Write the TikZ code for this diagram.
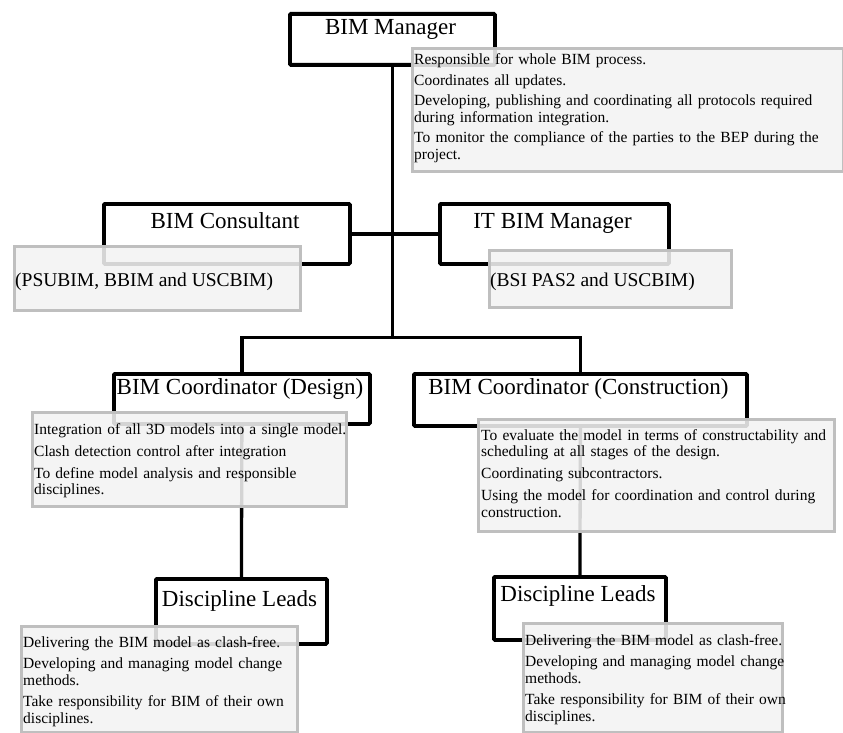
\documentclass[tikz,border=0pt]{standalone}
\usepackage{fontspec}
\setmainfont{Liberation Serif}
\usetikzlibrary{calc}
\begin{document}
\begin{tikzpicture}[x=1pt,y=-1pt,
  rolebox/.style={draw=black, line width=3.8pt, rounded corners=1pt, inner sep=0pt, anchor=north west},
  roletext/.style={font=\fontsize{23}{26}\selectfont, anchor=base, inner sep=0pt},
  link/.style={line width=3.3pt},
  descbox/.style={draw=black!25, line width=3pt, fill=black!5, fill opacity=0.88, inner sep=0pt, anchor=north west},
  desctext/.style={font=\fontsize{15.5}{16.5}\selectfont, align=left, text width=420pt, inner sep=0pt, anchor=base west},
  bigtext/.style={font=\fontsize{19.5}{22}\selectfont, anchor=base west, inner sep=0pt}
]
\useasboundingbox (0,0) rectangle (843,733);

% role boxes
\node[rolebox, minimum width=205pt, minimum height=51pt] (mgr) at (288,12) {};
\node[roletext] (mgrt) at (390.5,35) {BIM Manager};
\node[rolebox, minimum width=246pt, minimum height=60pt] (cons) at (102,202) {};
\node[roletext] (const) at (225,228) {BIM Consultant};
\node[rolebox, minimum width=229pt, minimum height=60pt] (itm) at (438,202) {};
\node[roletext] (itmt) at (552.5,228) {IT BIM Manager};
\node[rolebox, minimum width=256pt, minimum height=50pt] (des) at (112,372) {};
\node[roletext] (dest) at (240,394) {BIM Coordinator (Design)};
\node[rolebox, minimum width=333pt, minimum height=52pt] (con) at (412,372) {};
\node[roletext] (cont) at (578.5,394) {BIM Coordinator (Construction)};
\node[rolebox, minimum width=171pt, minimum height=65pt] (dl1) at (154,577) {};
\node[roletext] (dl1t) at (239.5,606) {Discipline Leads};
\node[rolebox, minimum width=172pt, minimum height=63pt] (dl2) at (492,575) {};
\node[roletext] (dl2t) at (578,601) {Discipline Leads};

% connectors
\coordinate (j1) at ($(mgr.south)+(0,271)$);
\draw[link] (mgr.south) -- (j1);
\draw[link] (des.north) |- (j1) -| (con.north);
\draw[link] (cons.east) -- (itm.west);
\draw[link] (des.south) -- (dl1.north);
\draw[link] (con.south) -- (dl2.north);

% description boxes
\node[descbox, minimum width=431pt, minimum height=123pt] (d0) at (411,47) {};
\node[desctext] (d0t) at (414,65) {Responsible for whole BIM process.\\[4pt]
Coordinates all updates.\\[4pt]
Developing, publishing and coordinating all protocols required\\
during information integration.\\[4pt]
To monitor the compliance of the parties to the BEP during the\\
project.};

\node[descbox, minimum width=286pt, minimum height=64pt] (d1) at (13,245) {};
\node[bigtext] (d1t) at (15,286) {(PSUBIM, BBIM and USCBIM)};

\node[descbox, minimum width=242pt, minimum height=57pt] (d2) at (488,249) {};
\node[bigtext] (d2t) at (490,286) {(BSI PAS2 and USCBIM)};

\node[descbox, minimum width=314pt, minimum height=94pt] (d3) at (31,411) {};
\node[desctext] (d3t) at (34,434) {Integration of all 3D models into a single model.\\[5.5pt]
Clash detection control after integration\\[5.5pt]
To define model analysis and responsible\\
disciplines.};

\node[descbox, minimum width=356pt, minimum height=112pt] (d4) at (477,418) {};
\node[desctext] (d4t) at (481,440) {To evaluate the model in terms of constructability and\\
scheduling at all stages of the design.\\[5.5pt]
Coordinating subcontractors.\\[5.5pt]
Using the model for coordination and control during\\
construction.};

\node[descbox, minimum width=276pt, minimum height=106pt] (d5) at (20,625) {};
\node[desctext] (d5t) at (23,647) {Delivering the BIM model as clash-free.\\[5pt]
Developing and managing model change\\
methods.\\[5pt]
Take responsibility for BIM of their own\\
disciplines.};

\node[descbox, minimum width=259pt, minimum height=109pt] (d6) at (522,622) {};
\node[desctext] (d6t) at (525,645) {Delivering the BIM model as clash-free.\\[5pt]
Developing and managing model change\\
methods.\\[5pt]
Take responsibility for BIM of their own\\
disciplines.};
\end{tikzpicture}
\end{document}
